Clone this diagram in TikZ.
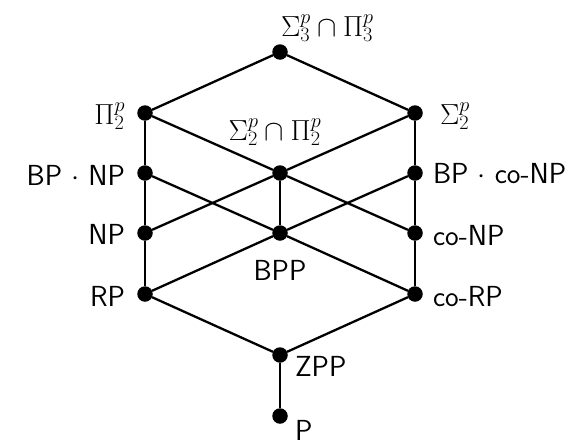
\RequirePackage{fix-cm}
\documentclass[tikz,border=0pt]{standalone}
\begin{document}
\begin{tikzpicture}[x=1pt,y=-1pt,
  every node/.style={inner sep=0pt, outer sep=0pt},
  dot/.style={circle, fill=black, minimum size=15.5pt},
  edge/.style={line width=2.3pt},
  lab/.style={font=\fontsize{29}{35}\selectfont\sffamily}]
\useasboundingbox (0,0) rectangle (581,442);
% dots
\node[dot] (top) at (280,52) {};
\node[dot] (Pi2) at (145,113) {};
\node[dot] (Sig2) at (415,113) {};
\node[dot] (BPNP) at (145,173) {};
\node[dot] (C) at (280,173) {};
\node[dot] (BPcoNP) at (415,173) {};
\node[dot] (NP) at (145,233) {};
\node[dot] (BPP) at (280,233) {};
\node[dot] (coNP) at (415,233) {};
\node[dot] (RP) at (145,294) {};
\node[dot] (coRP) at (415,294) {};
\node[dot] (ZPP) at (280,355) {};
\node[dot] (P) at (280,416) {};
% edges
\draw[edge] (top) -- (Pi2);
\draw[edge] (top) -- (Sig2);
\draw[edge] (Pi2) -- (BPNP);
\draw[edge] (BPNP) -- (NP);
\draw[edge] (NP) -- (RP);
\draw[edge] (Sig2) -- (BPcoNP);
\draw[edge] (BPcoNP) -- (coNP);
\draw[edge] (coNP) -- (coRP);
\draw[edge] (Pi2) -- (C);
\draw[edge] (Sig2) -- (C);
\draw[edge] (C) -- (BPP);
\draw[edge] (BPNP) -- (BPP);
\draw[edge] (BPcoNP) -- (BPP);
\draw[edge] (NP) -- (C);
\draw[edge] (C) -- (coNP);
\draw[edge] (RP) -- (BPP);
\draw[edge] (BPP) -- (coRP);
\draw[edge] (RP) -- (ZPP);
\draw[edge] (coRP) -- (ZPP);
\draw[edge] (ZPP) -- (P);
% labels
\node[lab, anchor=west] (ltop) at (281,28) {$\Sigma_3^p\cap\Pi_3^p$};
\node[lab] (lC) at (275,132) {$\Sigma_2^p\cap\Pi_2^p$};
\node[lab, anchor=east] (lPi2) at (125,116) {$\Pi_2^p$};
\node[lab, anchor=west] (lSig2) at (440,116) {$\Sigma_2^p$};
\node[lab, anchor=east] (lBPNP) at (125,175) {BP $\cdot$ NP};
\node[lab, anchor=east] (lNP) at (125,234) {NP};
\node[lab, anchor=east] (lRP) at (125,296) {RP};
\node[lab, anchor=west] (lBPcoNP) at (433,174) {BP $\cdot$ co-NP};
\node[lab, anchor=west] (lcoNP) at (433,236) {co-NP};
\node[lab, anchor=west] (lcoRP) at (433,297) {co-RP};
\node[lab] (lBPP) at (280,270) {BPP};
\node[lab, anchor=west] (lZPP) at (295,366) {ZPP};
\node[lab, anchor=west] (lP) at (295,430) {P};
\end{tikzpicture}
\end{document}
